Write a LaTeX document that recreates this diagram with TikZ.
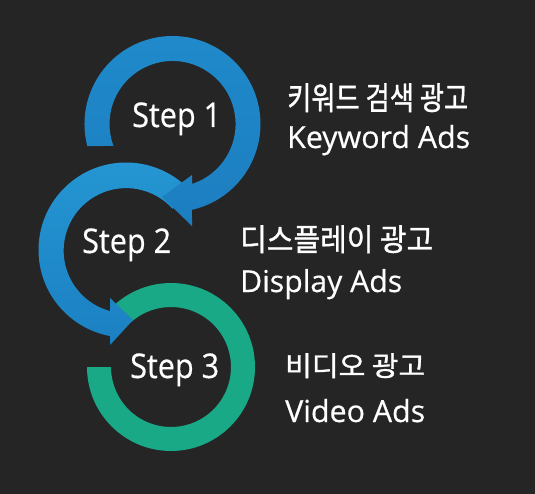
\documentclass[tikz,border=0pt]{standalone}
\usepackage{fontspec}
\setmainfont{Open Sans}[FakeBold=0.5]
\newfontfamily\krfont{Noto Sans CJK KR}[FakeBold=1.2]
\definecolor{bg}{HTML}{252525}
\definecolor{blueA}{HTML}{1F8ACA}
\definecolor{blueAdark}{HTML}{1C7EC0}
\definecolor{blueB}{HTML}{2597D3}
\definecolor{blueBdark}{HTML}{1B80C2}
\definecolor{greenC}{HTML}{19A986}
\tikzset{
  steplabel/.style={text=white, anchor=base west, inner sep=0pt, font=\fontsize{34}{34}\selectfont},
  krlabel/.style={text=white, anchor=north west, inner sep=0pt},
  enlabel/.style={text=white, anchor=base west, inner sep=0pt},
}
\newcommand\fitbox[3]{\resizebox*{#1pt}{#2pt}{#3}}
\newcommand\fitw[2]{\resizebox{#1pt}{!}{#2}}
\newcommand\narrow[1]{\scalebox{0.9}[1]{#1}}
\begin{document}
\begin{tikzpicture}[x=1pt,y=-1pt]
\fill[bg] (0,0) rectangle (535,494);
\useasboundingbox (0,0) rectangle (535,494);
% circle 3 (green)
\fill[greenC] (171,367) ++(180:84) arc[start angle=180,end angle=-132,radius=84]
  -- ++(48:24) arc[start angle=-132,end angle=180,radius=60] -- cycle;
% circle 2 (blue, arrow into circle 3)
\shade[top color=blueB, bottom color=blueBdark] (126,250) ++(-42:87.5)
  arc[start angle=-42,end angle=-259.5,radius=87.5]
  -- (110,345) -- (133,320) -- (110,298) -- (110,311)
  arc[start angle=-255,end angle=-42,radius=62.5] -- cycle;
% circle 1 (blue, arrow into circle 2)
\shade[top color=blueA, bottom color=blueAdark] (172.5,124) ++(165.5:88)
  arc[start angle=165.5,end angle=437.2,radius=88]
  -- (192,226) -- (162,197) -- (192,175) -- (192,183.9)
  arc[start angle=432,end angle=159.56,radius=63] -- cycle;
% step labels
\node[steplabel] (s1) at (132,127) {\narrow{Step 1}};
\node[steplabel] (s2) at (82,253) {\narrow{Step 2}};
\node[steplabel] (s3) at (130,378) {\narrow{Step 3}};
% descriptions
\node[krlabel] (k1) at (287,83) {\fitbox{181}{29}{\krfont 키워드 검색 광고}};
\node[enlabel] (e1) at (287,148) {\fitw{183}{Keyword Ads}};
\node[krlabel] (k2) at (240,225) {\fitbox{193}{28}{\krfont 디스플레이 광고}};
\node[enlabel] (e2) at (240,292) {\fitw{162}{Display Ads}};
\node[krlabel] (k3) at (285,353) {\fitbox{140}{25}{\krfont 비디오 광고}};
\node[enlabel] (e3) at (285,422) {\fitw{140}{Video Ads}};
\end{tikzpicture}
\end{document}
